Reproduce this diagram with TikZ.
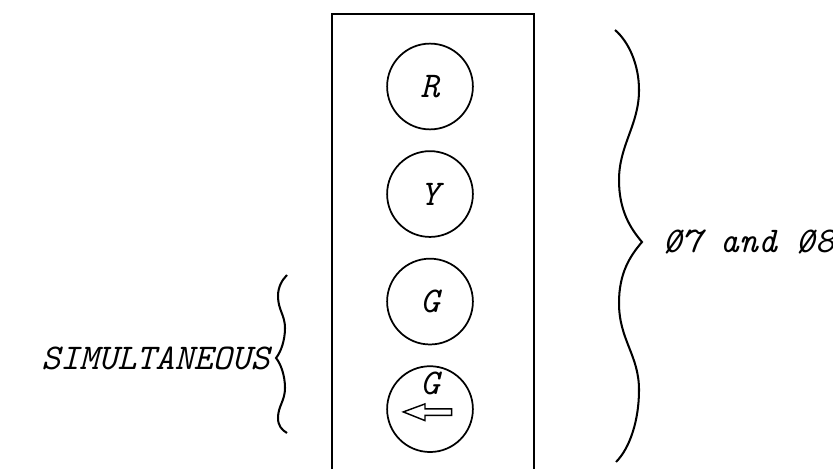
\documentclass[tikz,border=0pt]{standalone}
\usepackage{fontspec}
\usepackage{tikz}
\usetikzlibrary{positioning,calc}
\newcommand{\zerocortado}{\ooalign{\hfil0\hfil\cr\hfil\raisebox{0.1ex}{\scalebox{0.85}{/}}\hfil\cr}}
\tikzset{%
  caixa/.style={draw=black,line width=0.8pt},
  lampada/.style={draw=black,circle,line width=0.6pt,minimum size=29.6pt,inner sep=0pt,font=\fontsize{12.5}{15}\ttfamily\itshape},
  chave/.style={draw=black,line width=0.7pt,line join=miter},
  seta oca/.style={draw=black,line width=0.5pt,line join=miter},
  rotulo/.style={inner sep=2pt,text=black,font=\fontsize{12.5}{15}\ttfamily\itshape}
}

\begin{document}
\begin{tikzpicture}[x=0.345pt,y=-0.345pt]
    \useasboundingbox (0,0) rectangle (833,469);
    \draw[caixa] (332,469) -- (332,14) -- (534,14) -- (534,469);
    \node[lampada] (verm) at (430,86.5) {R};
    \node[lampada,below=6.9pt of verm] (amar) {Y};
    \node[lampada,below=6.9pt of amar] (verde) {G};
    \node[lampada,below=6.9pt of verde] (seta) {};
    \node[rotulo] (verdeseta) at ([yshift=8.8pt]seta.center) {G};
    \draw[seta oca,shift={(seta.center)}] (-26.7,2.8) -- (-5,-5.2) -- (-5,-0.2) -- (21.7,-0.2)
      -- (21.7,6.2) -- (-5,6.2) -- (-5,11.5) -- cycle;
    \coordinate (pontadir) at (642,242);
    \coordinate (pontaesq) at (276,358);
    \draw[chave] (615,30) .. controls (629,42) and (639,65) .. (639,90)
      .. controls (639,125) and (619,145) .. (619,180)
      .. controls (619,210) and (630,228) .. (pontadir)
      .. controls (630,256) and (619,273) .. (619,303)
      .. controls (619,340) and (639,355) .. (639,390)
      .. controls (639,420) and (630,448) .. (616,462);
    \draw[chave] (287,275) .. controls (282,280) and (278,287) .. (278,296)
      .. controls (278,310) and (285,315) .. (285,328)
      .. controls (285,340) and (281,352) .. (pontaesq)
      .. controls (281,364) and (285,376) .. (285,388)
      .. controls (285,401) and (278,406) .. (278,418)
      .. controls (278,426) and (282,430) .. (287,433);
    \node[rotulo,right=5pt of pontadir] (fases) {\zerocortado7 and \zerocortado8};
    \node[rotulo,left=0pt of pontaesq] (simult) {SIMULTANEOUS};
  \end{tikzpicture}
\end{document}
